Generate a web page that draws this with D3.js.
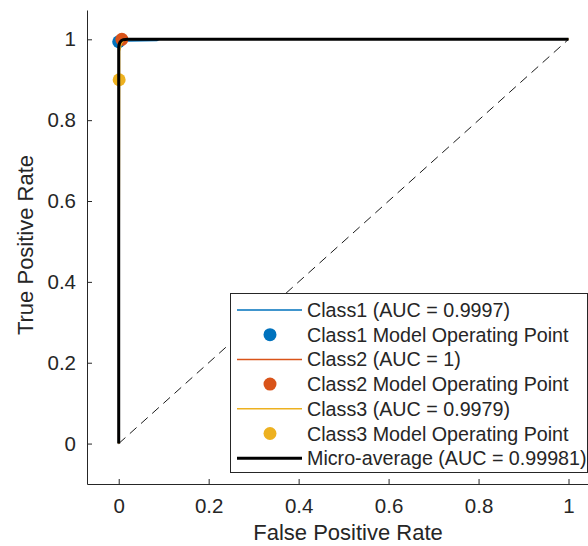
<!DOCTYPE html>
<html>
<head>
<meta charset="utf-8">
<script src="https://cdn.jsdelivr.net/npm/d3@7"></script>
<style>
  body { margin: 0; background: #fff; }
  svg { display: block; }
  text { font-family: "Liberation Sans", Arial, sans-serif; fill: #262626; }
</style>
</head>
<body>
<svg id="chart" width="588" height="546"></svg>
<script>
// ROC curves per class (fpr, tpr)
const class1 = [[0, 0], [0, 0.99], [0.005, 0.994], [0.02, 0.996], [0.085, 0.997], [0.09, 1], [1, 1]];
const class2 = [[0, 0], [0, 1], [1, 1]];
const class3 = [[0, 0], [0.002, 0.9], [0.002, 0.97], [0.006, 0.99], [0.012, 0.998], [0.02, 1], [1, 1]];
const micro = [[0, 0], [0, 0.98], [0.003, 0.993], [0.01, 0.999], [0.02, 1], [1, 1]];

// operating points
const opPoints = [[0, 0.994], [0.007, 1], [0.001, 0.9]];

const xTicks = [0, 0.2, 0.4, 0.6, 0.8, 1];
const yTicks = [0, 0.2, 0.4, 0.6, 0.8, 1];

const legendLabels = [
	"Class1 (AUC = 0.9997)",
	"Class1 Model Operating Point",
	"Class2 (AUC = 1)",
	"Class2 Model Operating Point",
	"Class3 (AUC = 0.9979)",
	"Class3 Model Operating Point",
	"Micro-average (AUC = 0.99981)"
];

const COLORS = ["#0072BD", "#D95319", "#EDB120"];
const axisColor = "#262626";
const tickFont = 20.5;

const svg = d3.select("#chart");

// 0 -> 118.7px, 1 -> 568.7px
const x = d3.scaleLinear().domain([-0.0705, 1.07]).range([87, 600]);
const y = d3.scaleLinear().domain([-0.1, 1.0725]).range([484, 10]);

const line = d3.line().x(d => x(d[0])).y(d => y(d[1]));

// axes
const xAxis = svg.append("g")
	.attr("transform", `translate(0,${y(-0.1)})`)
	.call(d3.axisBottom(x).tickValues(xTicks).tickFormat(d3.format("")).tickSizeInner(-5).tickSizeOuter(0).tickPadding(14.5));
const yAxis = svg.append("g")
	.attr("transform", `translate(${x(-0.0705)},0)`)
	.call(d3.axisLeft(y).tickValues(yTicks).tickFormat(d3.format("")).tickSizeInner(-5).tickSizeOuter(0).tickPadding(11));

[xAxis, yAxis].forEach(a => {
	a.select(".domain").attr("stroke", axisColor).attr("stroke-width", 1);
	a.selectAll(".tick line").attr("stroke", axisColor);
	a.selectAll(".tick text").attr("font-size", tickFont).attr("fill", axisColor)
		.style("font-family", "'Liberation Sans', Arial, sans-serif");
});

// axis titles
svg.append("text")
	.attr("x", 348).attr("y", 540)
	.attr("text-anchor", "middle")
	.attr("font-size", 22)
	.text("False Positive Rate");
svg.append("text")
	.attr("transform", "translate(33,245) rotate(-90)")
	.attr("text-anchor", "middle")
	.attr("font-size", 22)
	.text("True Positive Rate");

// chance line
svg.append("path")
	.datum([[0, 0], [1, 1]])
	.attr("d", line)
	.attr("fill", "none")
	.attr("stroke", "#000")
	.attr("stroke-width", 0.9)
	.attr("stroke-dasharray", "9,6");

// curves and points in plotting order
const curves = [class1, class2, class3];
curves.forEach((c, i) => {
	svg.append("path")
		.datum(c)
		.attr("d", line)
		.attr("fill", "none")
		.attr("stroke", COLORS[i])
		.attr("stroke-width", 1.5);
	svg.append("circle")
		.attr("cx", x(opPoints[i][0]))
		.attr("cy", y(opPoints[i][1]))
		.attr("r", 6.5)
		.attr("fill", COLORS[i]);
});

svg.append("path")
	.datum(micro)
	.attr("d", d3.line().x(d => x(d[0])).y(d => y(d[1])).curve(d3.curveMonotoneX))
	.attr("fill", "none")
	.attr("stroke", "#000")
	.attr("stroke-width", 3)
	.attr("stroke-linejoin", "round");

// legend
const lg = svg.append("g");
lg.append("rect")
	.attr("x", 230.5).attr("y", 293.5)
	.attr("width", 357).attr("height", 179)
	.attr("fill", "#fff")
	.attr("stroke", axisColor)
	.attr("stroke-width", 1);

const rowY = i => 310 + i * 24.7;
legendLabels.forEach((lab, i) => {
	const g = lg.append("g");
	if (i % 2 === 0) {
		g.append("line")
			.attr("x1", 237).attr("x2", 302)
			.attr("y1", rowY(i)).attr("y2", rowY(i))
			.attr("stroke", i === 6 ? "#000" : COLORS[i / 2])
			.attr("stroke-width", i === 6 ? 3 : 1.5);
	} else {
		g.append("circle")
			.attr("cx", 270).attr("cy", rowY(i))
			.attr("r", 6.5)
			.attr("fill", COLORS[(i - 1) / 2]);
	}
	g.append("text")
		.attr("x", 307).attr("y", rowY(i))
		.attr("dy", "0.36em")
		.attr("font-size", 19.7)
		.attr("fill", "#000")
		.text(lab);
});
</script>
</body>
</html>
